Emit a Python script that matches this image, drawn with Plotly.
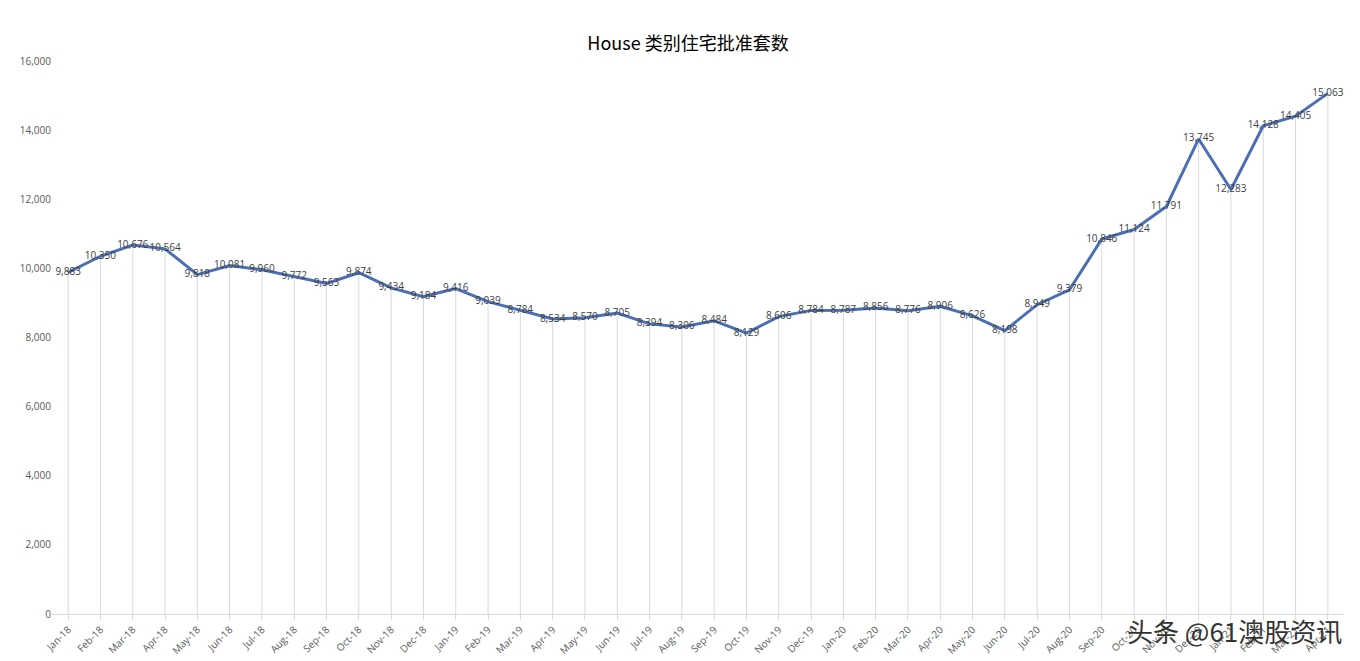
import plotly.graph_objects as go

months = ["Jan-18","Feb-18","Mar-18","Apr-18","May-18","Jun-18","Jul-18","Aug-18","Sep-18","Oct-18","Nov-18","Dec-18",
          "Jan-19","Feb-19","Mar-19","Apr-19","May-19","Jun-19","Jul-19","Aug-19","Sep-19","Oct-19","Nov-19","Dec-19",
          "Jan-20","Feb-20","Mar-20","Apr-20","May-20","Jun-20","Jul-20","Aug-20","Sep-20","Oct-20","Nov-20","Dec-20",
          "Jan-21","Feb-21","Mar-21","Apr-21"]
values = [9883,10350,10676,10564,9818,10081,9960,9772,9563,9874,9434,9184,
          9416,9039,8784,8534,8570,8705,8394,8306,8484,8129,8606,8784,
          8787,8856,8776,8906,8626,8198,8949,9379,10846,11124,11791,13745,
          12283,14128,14405,15063]
y_ticks = [0,2000,4000,6000,8000,10000,12000,14000,16000]

fig = go.Figure(go.Scatter(
    x=months, y=values, mode="lines+text",
    line=dict(color="#4a6fb5", width=3),
    text=[f"{v:,}" for v in values], textposition="middle center",
    textfont=dict(size=10, color="#404040", family="Open Sans"),
    error_y=dict(type="data", symmetric=False, array=[0]*len(values), arrayminus=values,
                 color="#d9d9d9", thickness=1, width=0),
    cliponaxis=False,
))
fig.update_layout(
    width=1360, height=661, paper_bgcolor="white", plot_bgcolor="white",
    margin=dict(l=42, r=24, t=53, b=54),
    title=dict(text="House 类别住宅批准套数", x=0.5, y=0.955, xanchor="center",
               font=dict(size=18, color="black", family="Noto Sans CJK SC")),
    showlegend=False,
    font=dict(family="Open Sans", color="#595959", size=10),
)
fig.update_xaxes(type="category", tickangle=-45, showgrid=False, showline=True, linecolor="#d9d9d9",
                 ticks="outside", tickcolor="#d9d9d9", ticklen=5, range=[-0.5, 39.5], tickfont=dict(size=10))
fig.update_yaxes(range=[0,16000], tickvals=y_ticks, tickformat=",", showgrid=False, zeroline=False,
                 tickfont=dict(size=10))
fig.add_annotation(text="头条 @61澳股资讯", xref="paper", yref="paper", x=1.0, y=-0.03, xanchor="right",
                   yanchor="middle", showarrow=False, font=dict(size=26, color="#333", family="Noto Sans CJK SC"))
fig.write_html("out.html")
